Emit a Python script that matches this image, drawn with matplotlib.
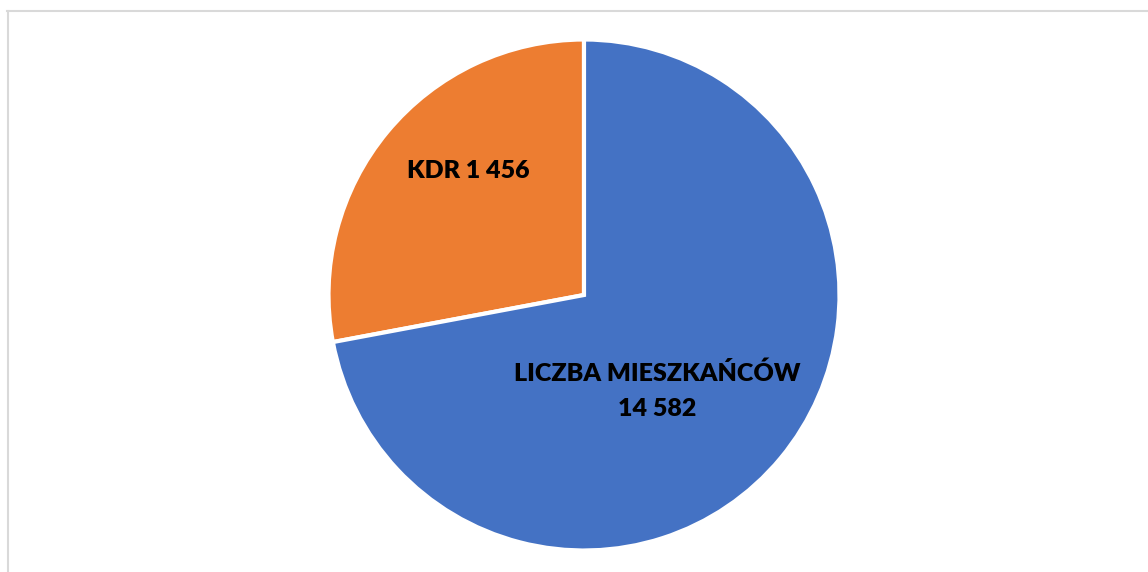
import matplotlib
matplotlib.use("Agg")
import matplotlib.pyplot as plt
from matplotlib.lines import Line2D

# Data
categories = ["KDR", "LICZBA MIESZKAŃCÓW"]
label_values = ["1 456", "14 582"]
slice_shares = [27.95, 72.05]  # shares as drawn in the picture (%)
colors = ["#ED7D31", "#4472C4"]

W, H = 1148, 572
fig = plt.figure(figsize=(W / 100, H / 100), dpi=100)
ax = fig.add_axes([0, 0, 1, 1])

cx, cy, r = 584, H - 295, 255.5
wedges, _ = ax.pie(slice_shares, colors=colors, startangle=90, counterclock=True,
                   center=(cx, cy), radius=r, frame=True,
                   wedgeprops=dict(edgecolor="white", linewidth=3))
ax.set_xlim(0, W)
ax.set_ylim(0, H)
ax.set_aspect("equal")
ax.axis("off")

font = dict(family=["Lato", "DejaVu Sans"], fontweight="heavy", color="black", fontsize=18)
ax.text(468, H - 171, f"{categories[0]} {label_values[0]}", ha="center", va="center", **font)
ax.text(657, H - 391, f"{categories[1]}\n{label_values[1]}", ha="center", va="center",
        linespacing=1.7, **font)

# chart area border (partially visible)
fig.add_artist(Line2D([7 / W, 1.0], [1 - 10.5 / H, 1 - 10.5 / H], color="#D9D9D9", lw=1.5,
                      transform=fig.transFigure))
fig.add_artist(Line2D([8 / W, 8 / W], [0, 1 - 10.5 / H], color="#D9D9D9", lw=1.5,
                      transform=fig.transFigure))

fig.savefig("out.png", dpi=100, facecolor="white")
